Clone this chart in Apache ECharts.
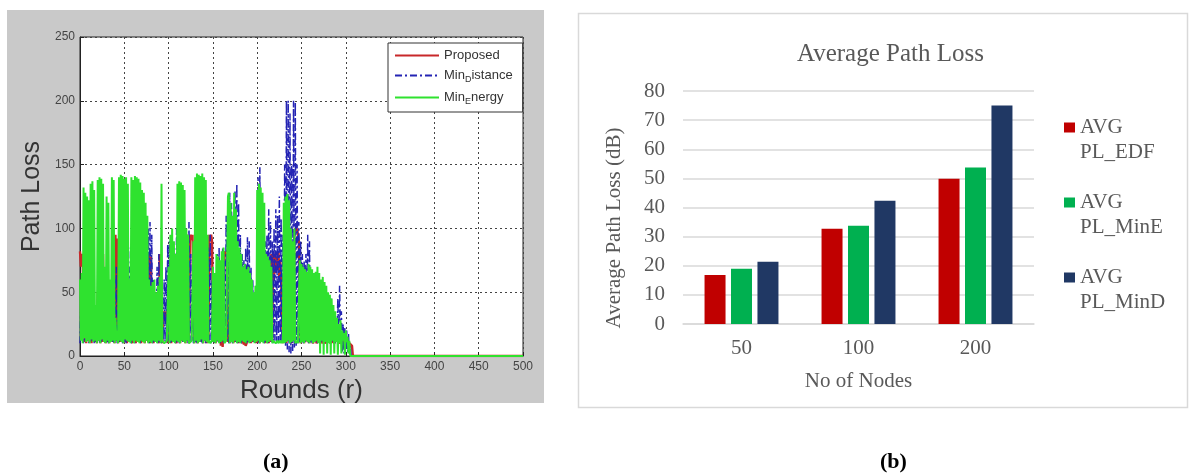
<!DOCTYPE html>
<html>
<head>
<meta charset="utf-8">
<script src="https://cdn.jsdelivr.net/npm/echarts@6/dist/echarts.min.js"></script>
<style>
  html, body { margin: 0; padding: 0; background: #fff; }
  #chart { width: 1191px; height: 473px; }
</style>
</head>
<body>
<div id="chart"></div>
<script>
// ---- Panel (a): path loss per round, one value per round starting at round 0 ----
const proposedLoss = [
  82,70,80,75,40,11,40,10,35,12,
  88,11,60,10,30,12,25,11,20,10,
  50,12,30,10,85,11,80,12,40,10,
  30,11,25,10,20,12,30,11,35,10,
  95,12,92,10,60,11,30,12,25,10,
  40,11,85,10,30,12,20,11,15,10,
  25,12,20,10,30,11,25,12,20,10,
  30,11,25,10,20,12,30,11,80,10,
  78,12,40,10,30,11,25,12,20,10,
  80,11,75,10,35,30,35,25,35,10,
  20,12,30,10,25,11,20,12,15,10,
  30,11,25,10,20,12,30,11,25,10,
  60,12,95,10,90,95,92,95,30,10,
  25,11,20,10,30,12,25,11,20,10,
  30,12,25,10,40,11,95,92,95,90,
  30,11,25,10,20,12,30,11,25,8,
  30,7,25,80,82,78,80,11,20,10,
  30,12,25,10,20,11,30,12,25,10,
  20,11,15,10,12,9,11,8,10,9,
  20,12,25,10,30,11,25,12,20,10,
  30,11,25,10,20,12,30,11,25,10,
  40,12,60,10,75,11,80,12,82,60,
  80,65,78,70,82,60,75,62,30,10,
  25,11,20,10,30,12,25,11,20,10,
  60,12,95,100,98,100,95,90,40,10,
  30,11,25,10,20,12,15,11,18,10,
  20,12,15,10,12,11,14,10,12,11,
  15,12,14,10,12,11,13,10,12,11,
  14,12,13,10,12,11,13,10,12,11,
  14,12,13,10,12,11,13,10,12,11,
  12,10,11,9,10,9,10,8,0,0
];

const minDistanceLoss = [
  10,40,12,30,10,50,11,20,12,60,
  10,35,11,70,12,50,10,40,11,30,
  12,60,10,45,11,80,12,55,10,40,
  11,30,10,25,12,20,11,50,10,60,
  12,70,10,35,11,60,12,50,10,40,
  11,80,10,60,12,70,11,85,10,75,
  12,80,10,88,11,90,12,70,10,65,
  11,75,10,88,12,95,11,100,10,105,
  12,95,10,60,11,50,12,70,10,80,
  11,55,10,45,12,60,11,70,10,88,
  12,90,10,85,11,70,12,60,10,100,
  11,105,10,80,12,60,11,70,10,65,
  12,95,10,105,11,80,12,60,10,50,
  11,70,10,60,12,55,11,65,10,80,
  12,70,10,80,11,85,12,95,10,60,
  11,50,10,65,12,80,11,85,10,70,
  12,85,10,75,11,110,12,125,10,128,
  11,120,10,100,12,130,11,135,10,120,
  12,95,10,80,11,75,12,85,10,93,
  11,90,10,70,12,60,11,50,10,55,
  12,140,10,148,11,120,12,100,10,90,
  11,95,10,115,12,105,11,90,10,100,
  12,115,10,110,11,125,12,108,10,95,
  11,150,8,200,5,200,3,190,2,150,
  4,200,6,199,8,150,10,105,11,90,
  12,80,10,75,11,80,12,95,10,90,
  11,55,10,50,12,45,11,40,10,35,
  12,45,10,40,11,35,12,30,10,25,
  11,40,10,45,12,35,11,30,10,25,
  12,45,10,55,11,35,3,25,2,22,
  5,20,3,18,2,8,0,0,0,0
];

const minEnergyLoss = [
  60,12,65,10,132,14,128,11,125,12,
  122,10,135,13,137,11,130,12,40,10,
  138,12,140,10,139,13,135,11,70,10,
  125,12,120,10,60,11,140,12,138,10,
  30,12,20,10,140,12,142,11,141,10,
  139,13,140,12,135,11,60,10,140,12,
  138,10,141,12,140,11,139,10,136,12,
  130,11,128,10,120,12,110,10,60,11,
  55,10,58,12,60,11,50,10,55,12,
  62,10,135,12,12,10,11,10,12,12,
  70,10,95,12,100,11,90,10,80,12,
  135,11,137,10,136,12,134,11,130,10,
  100,12,95,10,11,10,12,11,90,10,
  140,12,143,10,142,11,141,13,143,10,
  140,12,138,11,95,10,12,10,11,12,
  70,11,65,10,80,12,78,10,75,11,
  82,12,85,10,11,12,11,125,128,10,
  120,11,110,10,128,12,115,10,90,11,
  85,10,80,12,70,11,72,10,68,12,
  70,10,65,11,60,12,50,10,55,11,
  130,12,135,10,132,11,128,10,120,12,
  80,10,78,11,75,12,70,10,12,11,
  12,10,11,12,10,11,12,10,12,10,
  120,10,125,11,127,12,122,10,100,11,
  90,12,100,10,11,12,10,11,75,10,
  72,11,70,10,68,12,66,11,72,10,
  70,12,68,10,65,11,66,12,70,10,
  65,2,60,12,62,1,58,11,55,2,
  50,10,48,1,45,12,40,2,35,11,
  30,1,25,10,28,2,20,12,18,1,
  20,11,15,2,12,0,0,0,0,0
];

// every series rests at zero until the last simulated round
const lastRound = 500;

// ---- Panel (b): average path loss per network size ----
const nodeCounts = ['50', '100', '200'];
const avgPlEdf  = [16.8, 32.7, 49.9];
const avgPlMinE = [19.0, 33.7, 53.7];
const avgPlMinD = [21.4, 42.3, 75.0];

function toRoundSeries(values) {
  return values.map((v, i) => [i, v]).concat([[lastRound, 0]]);
}

const sans = 'Liberation Sans, Arial, sans-serif';
const serif = 'Liberation Serif, Times New Roman, serif';
const excelGrey = '#595959';

const chart = echarts.init(document.getElementById('chart'), null, { renderer: 'canvas' });

chart.setOption({
  animation: false,
  backgroundColor: '#fff',
  graphic: [
    { type: 'rect', z: -1, shape: { x: 7, y: 10, width: 537, height: 393 }, style: { fill: '#c9c9c9' } },
    { type: 'rect', z: -1, shape: { x: 578.5, y: 13.5, width: 609, height: 394 },
      style: { fill: '#fff', stroke: '#d9d9d9', lineWidth: 1.5 } }
  ],
  title: [
    { text: 'Average Path Loss', left: 792, top: 37,
      textStyle: { fontFamily: serif, fontSize: 25, fontWeight: 'normal', color: excelGrey } },
    { text: '(a)', left: 258, top: 446,
      textStyle: { fontFamily: serif, fontSize: 22, fontWeight: 'bold', color: '#000' } },
    { text: '(b)', left: 875, top: 446,
      textStyle: { fontFamily: serif, fontSize: 22, fontWeight: 'bold', color: '#000' } }
  ],
  legend: [
    {
      data: ['Proposed', 'Min_Distance', 'Min_Energy'],
      orient: 'vertical',
      left: 388, top: 43,
      padding: [6, 10, 6, 6],
      itemGap: 7,
      itemWidth: 44, itemHeight: 10,
      backgroundColor: '#fff',
      borderColor: '#333', borderWidth: 1, borderRadius: 0,
      itemStyle: { opacity: 0 },
      formatter: name => name.replace(/_(\w)/, '{sub|$1}'),
      textStyle: {
        fontFamily: sans, fontSize: 13, color: '#333',
        rich: { sub: { fontFamily: sans, fontSize: 9, color: '#333', padding: [8, 0, 0, 0] } }
      }
    },
    {
      data: ['AVG PL_EDF', 'AVG PL_MinE', 'AVG PL_MinD'],
      orient: 'vertical',
      left: 1064, top: 90,
      padding: 0,
      itemGap: 0,
      itemWidth: 11, itemHeight: 10,
      icon: 'rect',
      formatter: name => '\n' + name.replace(' ', '\n'),
      textStyle: { fontFamily: serif, fontSize: 21, lineHeight: 25, color: excelGrey }
    }
  ],
  grid: [
    { left: 80, top: 37, width: 443, height: 319, show: true,
      backgroundColor: '#fff', borderColor: '#222', borderWidth: 1 },
    { left: 683, top: 91, width: 351, height: 233 }
  ],
  xAxis: [
    {
      type: 'value', gridIndex: 0, min: 0, max: 500, interval: 50,
      name: 'Rounds (r)', nameLocation: 'middle', nameGap: 19,
      nameTextStyle: { fontFamily: sans, fontSize: 26, color: '#333' },
      axisLine: { show: true, onZero: false, lineStyle: { color: '#222' } },
      axisTick: { show: true, inside: true, length: 4, lineStyle: { color: '#222' } },
      axisLabel: { fontFamily: sans, fontSize: 12, color: '#444', margin: 5 },
      splitLine: { show: true, lineStyle: { color: '#444', type: [2, 3], width: 1 } }
    },
    {
      type: 'category', gridIndex: 1, data: nodeCounts,
      name: 'No of Nodes', nameLocation: 'middle', nameGap: 47,
      nameTextStyle: { fontFamily: serif, fontSize: 21, color: excelGrey },
      axisLine: { show: true, lineStyle: { color: '#d9d9d9', width: 1.5 } },
      axisTick: { show: false },
      axisLabel: { fontFamily: serif, fontSize: 21, color: excelGrey, margin: 14 },
      splitLine: { show: false }
    }
  ],
  yAxis: [
    {
      type: 'value', gridIndex: 0, min: 0, max: 250, interval: 50,
      name: 'Path Loss', nameLocation: 'middle', nameGap: 35,
      nameTextStyle: { fontFamily: sans, fontSize: 25, color: '#333' },
      axisLine: { show: true, onZero: false, lineStyle: { color: '#222' } },
      axisTick: { show: true, inside: true, length: 4, lineStyle: { color: '#222' } },
      axisLabel: { fontFamily: sans, fontSize: 12, color: '#444', margin: 5 },
      splitLine: { show: true, lineStyle: { color: '#444', type: [2, 3], width: 1 } }
    },
    {
      type: 'value', gridIndex: 1, min: 0, max: 80, interval: 10,
      name: 'Average Path Loss (dB)', nameLocation: 'middle', nameGap: 58,
      nameTextStyle: { fontFamily: serif, fontSize: 21, color: excelGrey, padding: [0, 41, 0, 0] },
      axisLine: { show: false },
      axisTick: { show: false },
      axisLabel: { fontFamily: serif, fontSize: 21, color: excelGrey, margin: 18 },
      splitLine: { show: true, lineStyle: { color: '#d9d9d9', width: 1.5 } }
    }
  ],
  series: [
    {
      name: 'Proposed', type: 'line', xAxisIndex: 0, yAxisIndex: 0,
      data: toRoundSeries(proposedLoss), symbol: 'none', silent: true,
      itemStyle: { color: '#c8282a' },
      lineStyle: { color: '#c8282a', width: 2.4 }
    },
    {
      name: 'Min_Distance', type: 'line', xAxisIndex: 0, yAxisIndex: 0,
      data: toRoundSeries(minDistanceLoss), symbol: 'none', silent: true,
      itemStyle: { color: '#2424b4' },
      lineStyle: { color: '#2424b4', width: 1.5, type: [7, 3, 2, 3] }
    },
    {
      name: 'Min_Energy', type: 'line', xAxisIndex: 0, yAxisIndex: 0,
      data: toRoundSeries(minEnergyLoss), symbol: 'none', silent: true,
      itemStyle: { color: '#2fe22f' },
      lineStyle: { color: '#2fe22f', width: 2 }
    },
    {
      name: 'AVG PL_EDF', type: 'bar', xAxisIndex: 1, yAxisIndex: 1,
      data: avgPlEdf, barWidth: 21, barGap: '26%',
      itemStyle: { color: '#c00000' }
    },
    {
      name: 'AVG PL_MinE', type: 'bar', xAxisIndex: 1, yAxisIndex: 1,
      data: avgPlMinE, barWidth: 21, barGap: '26%',
      itemStyle: { color: '#00b050' }
    },
    {
      name: 'AVG PL_MinD', type: 'bar', xAxisIndex: 1, yAxisIndex: 1,
      data: avgPlMinD, barWidth: 21, barGap: '26%',
      itemStyle: { color: '#203864' }
    }
  ]
});
</script>
</body>
</html>
